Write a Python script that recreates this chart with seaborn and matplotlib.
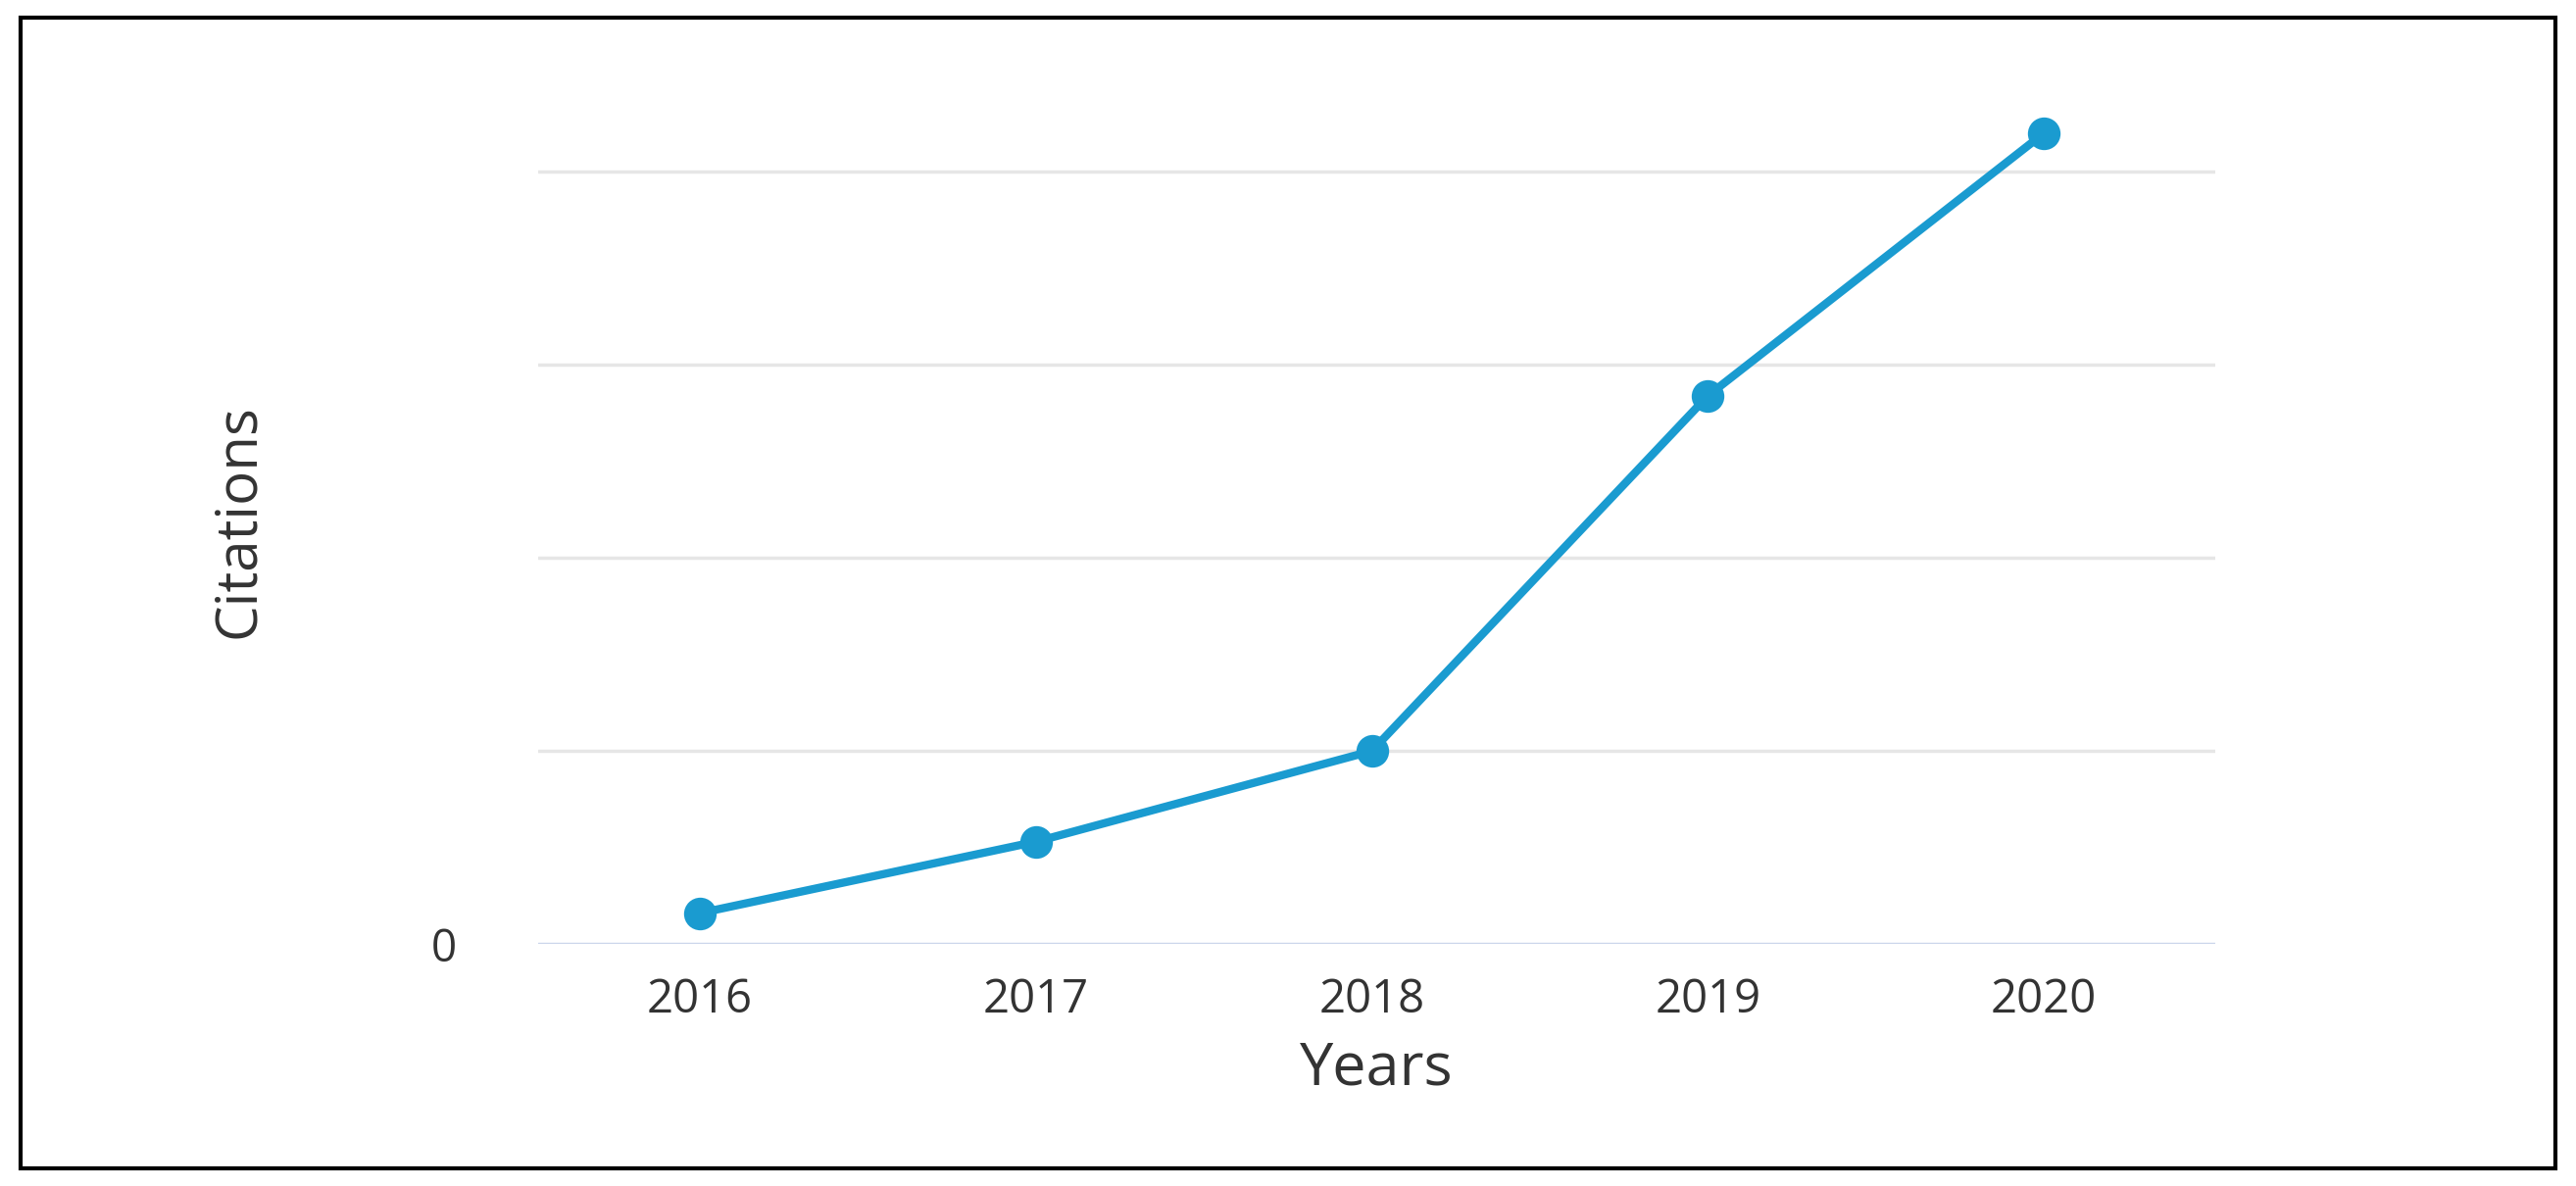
import matplotlib
matplotlib.use("Agg")
import matplotlib.pyplot as plt
import seaborn as sns
import pandas as pd
from matplotlib.patches import Rectangle

years = ["2016", "2017", "2018", "2019", "2020"]
citations = [1.6, 5.3, 10.0, 28.4, 42.0]
grid_vals = [0, 10, 20, 30, 40]

sns.set_theme(style="white")
plt.rcParams['font.family'] = ['Open Sans', 'DejaVu Sans']

df = pd.DataFrame({"x": range(len(years)), "Citations": citations})
fig = plt.figure(figsize=(26.28, 12.10), dpi=100)
ax = fig.add_axes([0.209, 0.204, 0.651, 0.713])
for g in grid_vals[1:]:
    ax.axhline(g, color="#e6e6e6", lw=2.5, zorder=0)
ax.axhline(0, color="#ccd6eb", lw=2.5, zorder=0)
sns.lineplot(data=df, x="x", y="Citations", ax=ax, color="#1a9bd0", lw=6,
             marker="o", markersize=24, markeredgewidth=0)
ax.set_xlim(-0.48, 4.51)
ax.set_ylim(0, 43.8)
ax.set_xticks(range(len(years)))
ax.set_xticklabels(years, fontsize=34, color="#333333")
ax.set_yticks([0])
ax.set_yticklabels(["0"], fontsize=33, color="#333333")
ax.tick_params(length=0, pad=24)
ax.tick_params(axis="y", pad=60)
ax.set_xlabel("Years", fontsize=44, color="#333333", labelpad=12)
ax.set_ylabel("Citations", fontsize=42, color="#333333", labelpad=120)
for s in ax.spines.values():
    s.set_visible(False)
fig.patches.append(Rectangle((0.008, 0.015), 0.984, 0.97, transform=fig.transFigure,
                             fill=False, edgecolor="black", lw=3))
fig.savefig("out.png", dpi=100)
